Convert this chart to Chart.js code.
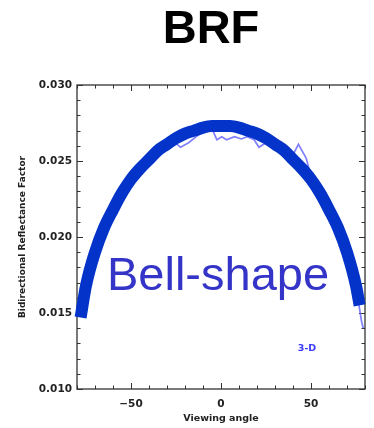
<!DOCTYPE html>
<html>
<head>
<meta charset="utf-8">
<title>BRF</title>
<script src="https://cdn.jsdelivr.net/npm/chart.js@4/dist/chart.umd.min.js"></script>
<style>
  body { margin: 0; background: #fff; }
  #wrap { width: 374px; height: 428px; position: relative; }
</style>
</head>
<body>
<div id="wrap"><canvas id="brf"></canvas></div>
<script>
"use strict";

// viewing angles of the fitted bell curve
const fitAngles = [-78, -75, -70, -65, -60, -55, -50, -45, -40, -35, -30, -25, -20, -15, -10, -5,
  0, 5, 10, 15, 20, 25, 30, 35, 40, 45, 50, 55, 60, 65, 70, 75, 77];
const fitBrf = [0.0147, 0.0168, 0.0190, 0.0206, 0.0218, 0.0229, 0.0238, 0.0245, 0.0251, 0.0257, 0.0261, 0.0265, 0.0268, 0.0270, 0.0272, 0.0273,
  0.0273, 0.0273, 0.0272, 0.0270, 0.0268, 0.0265, 0.0261, 0.0257, 0.0251, 0.0245, 0.0238, 0.0229, 0.0218, 0.0206, 0.0190, 0.0168, 0.0155];

// 3-D model output (noisy)
const modelAngles = [-78, -75, -72, -70, -66, -62, -58, -54, -50, -45, -40, -35, -30, -25.3, -22.5, -18, -12.7, -8, -4.5, -2.3,
  0.4, 3.1, 7.5, 11.3, 14.6, 18.4, 21.1, 25, 30, 35, 40, 43, 47.3, 50, 55, 60, 65, 70, 74, 76, 78, 79];
const modelBrf = [0.0150, 0.0170, 0.0180, 0.0188, 0.0200, 0.0212, 0.0220, 0.0228, 0.0235, 0.0243, 0.0249, 0.0254, 0.0258, 0.0262, 0.0259, 0.0262, 0.0267, 0.0270, 0.0270, 0.0264,
  0.0266, 0.0264, 0.0266, 0.02645, 0.0266, 0.0264, 0.0259, 0.0262, 0.0259, 0.0256, 0.0254, 0.0261, 0.0252, 0.0240, 0.0231, 0.0220, 0.0207, 0.0191, 0.0172, 0.0160, 0.0145, 0.0140];

const xTickLabels = [-50, 0, 50];
const yTickLabels = [0.010, 0.015, 0.020, 0.025, 0.030];

function toPoints(xs, ys) {
  return xs.map((x, i) => ({ x: x, y: ys[i] }));
}

//------------------- frame + inward ticks on all four sides -------------------
const frameTicks = {
  id: "frameTicks",
  beforeDatasetsDraw(chart) {
    const ctx = chart.ctx;
    const a = chart.chartArea;
    const xs = chart.scales.x;
    const ys = chart.scales.y;
    ctx.save();
    ctx.strokeStyle = "#333";
    ctx.lineWidth = 1.3;
    ctx.strokeRect(a.left, a.top, a.right - a.left, a.bottom - a.top);
    ctx.lineWidth = 1;
    ctx.beginPath();
    for (let t of xs.ticks) {
      let px = Math.round(xs.getPixelForValue(t.value)) + 0.5;
      let len = xTickLabels.includes(Math.round(t.value)) ? 6 : 3.5;
      ctx.moveTo(px, a.bottom); ctx.lineTo(px, a.bottom - len);
      ctx.moveTo(px, a.top); ctx.lineTo(px, a.top + len);
    }
    for (let t of ys.ticks) {
      let py = Math.round(ys.getPixelForValue(t.value)) + 0.5;
      let major = Math.round(t.value * 1000) % 5 === 0;
      let len = major ? 6 : 3.5;
      ctx.moveTo(a.left, py); ctx.lineTo(a.left + len, py);
      ctx.moveTo(a.right, py); ctx.lineTo(a.right - len, py);
    }
    ctx.stroke();
    ctx.restore();
  },
  afterDraw(chart) {
    const ctx = chart.ctx;
    const a = chart.chartArea;
    ctx.save();
    // big title
    ctx.fillStyle = "#000";
    ctx.font = "bold 47px 'Liberation Sans', Arial, sans-serif";
    ctx.textAlign = "center";
    ctx.textBaseline = "alphabetic";
    ctx.fillText("BRF", 211, 43);
    // annotation in the plot
    ctx.fillStyle = "#3434c8";
    ctx.font = "47px 'Liberation Sans', Arial, sans-serif";
    ctx.textAlign = "left";
    ctx.fillText("Bell-shape", 107, 290);
    ctx.fillStyle = "#3a3aff";
    ctx.font = "bold 9.5px 'DejaVu Sans', sans-serif";
    ctx.textAlign = "center";
    ctx.textBaseline = "middle";
    ctx.fillText("3-D", 307, 349);
    // axis titles
    ctx.fillStyle = "#222";
    ctx.font = "bold 9.5px 'DejaVu Sans', sans-serif";
    ctx.fillText("Viewing angle", (a.left + a.right) / 2, 419);
    ctx.translate(23, (a.top + a.bottom) / 2);
    ctx.rotate(-Math.PI / 2);
    ctx.font = "bold 9px 'DejaVu Sans', sans-serif";
    ctx.fillText("Bidirectional Reflectance Factor", 0, 0);
    ctx.restore();
  }
};

let brfChart = new Chart(document.getElementById("brf").getContext("2d"), {
  type: "line",
  data: {
    datasets: [{
      label: "fit",
      data: toPoints(fitAngles, fitBrf),
      borderColor: "#0333c9",
      borderWidth: 12,
      borderCapStyle: "butt",
      cubicInterpolationMode: "monotone",
      pointRadius: 0,
      fill: false,
      clip: false,
      order: 0
    }, {
      label: "3-D",
      data: toPoints(modelAngles, modelBrf),
      borderColor: "rgba(95, 95, 255, 0.8)",
      borderWidth: 1.7,
      tension: 0,
      pointRadius: 0,
      fill: false,
      clip: false,
      order: 1
    }]
  },
  options: {
    responsive: true,
    maintainAspectRatio: false,
    animation: false,
    layout: { padding: { top: 85, left: 0, right: 5, bottom: 0 } },
    plugins: {
      legend: { display: false },
      tooltip: { enabled: false },
      title: { display: false }
    },
    scales: {
      x: {
        type: "linear",
        min: -80,
        max: 80,
        grid: { display: false, drawTicks: false },
        border: { display: false },
        afterFit(scale) { scale.height = 39; },
        ticks: {
          stepSize: 10,
          autoSkip: false,
          maxRotation: 0,
          padding: 9,
          color: "#222",
          font: { family: "'DejaVu Sans', sans-serif", size: 10.5, weight: "bold" },
          callback: function (v) {
            let r = Math.round(v);
            if (!xTickLabels.includes(r)) return "";
            return r < 0 ? "\u2212" + Math.abs(r) : String(r);
          }
        }
      },
      y: {
        type: "linear",
        min: 0.010,
        max: 0.030,
        grid: { display: false, drawTicks: false },
        border: { display: false },
        afterFit(scale) { scale.width = 77; },
        ticks: {
          stepSize: 0.001,
          autoSkip: false,
          padding: 5,
          color: "#222",
          font: { family: "'DejaVu Sans', sans-serif", size: 10.5, weight: "bold" },
          callback: function (v) {
            let r = Math.round(v * 1000);
            if (!yTickLabels.some(l => Math.round(l * 1000) === r)) return "";
            return (r / 1000).toFixed(3);
          }
        }
      }
    }
  },
  plugins: [frameTicks]
});
</script>
</body>
</html>
